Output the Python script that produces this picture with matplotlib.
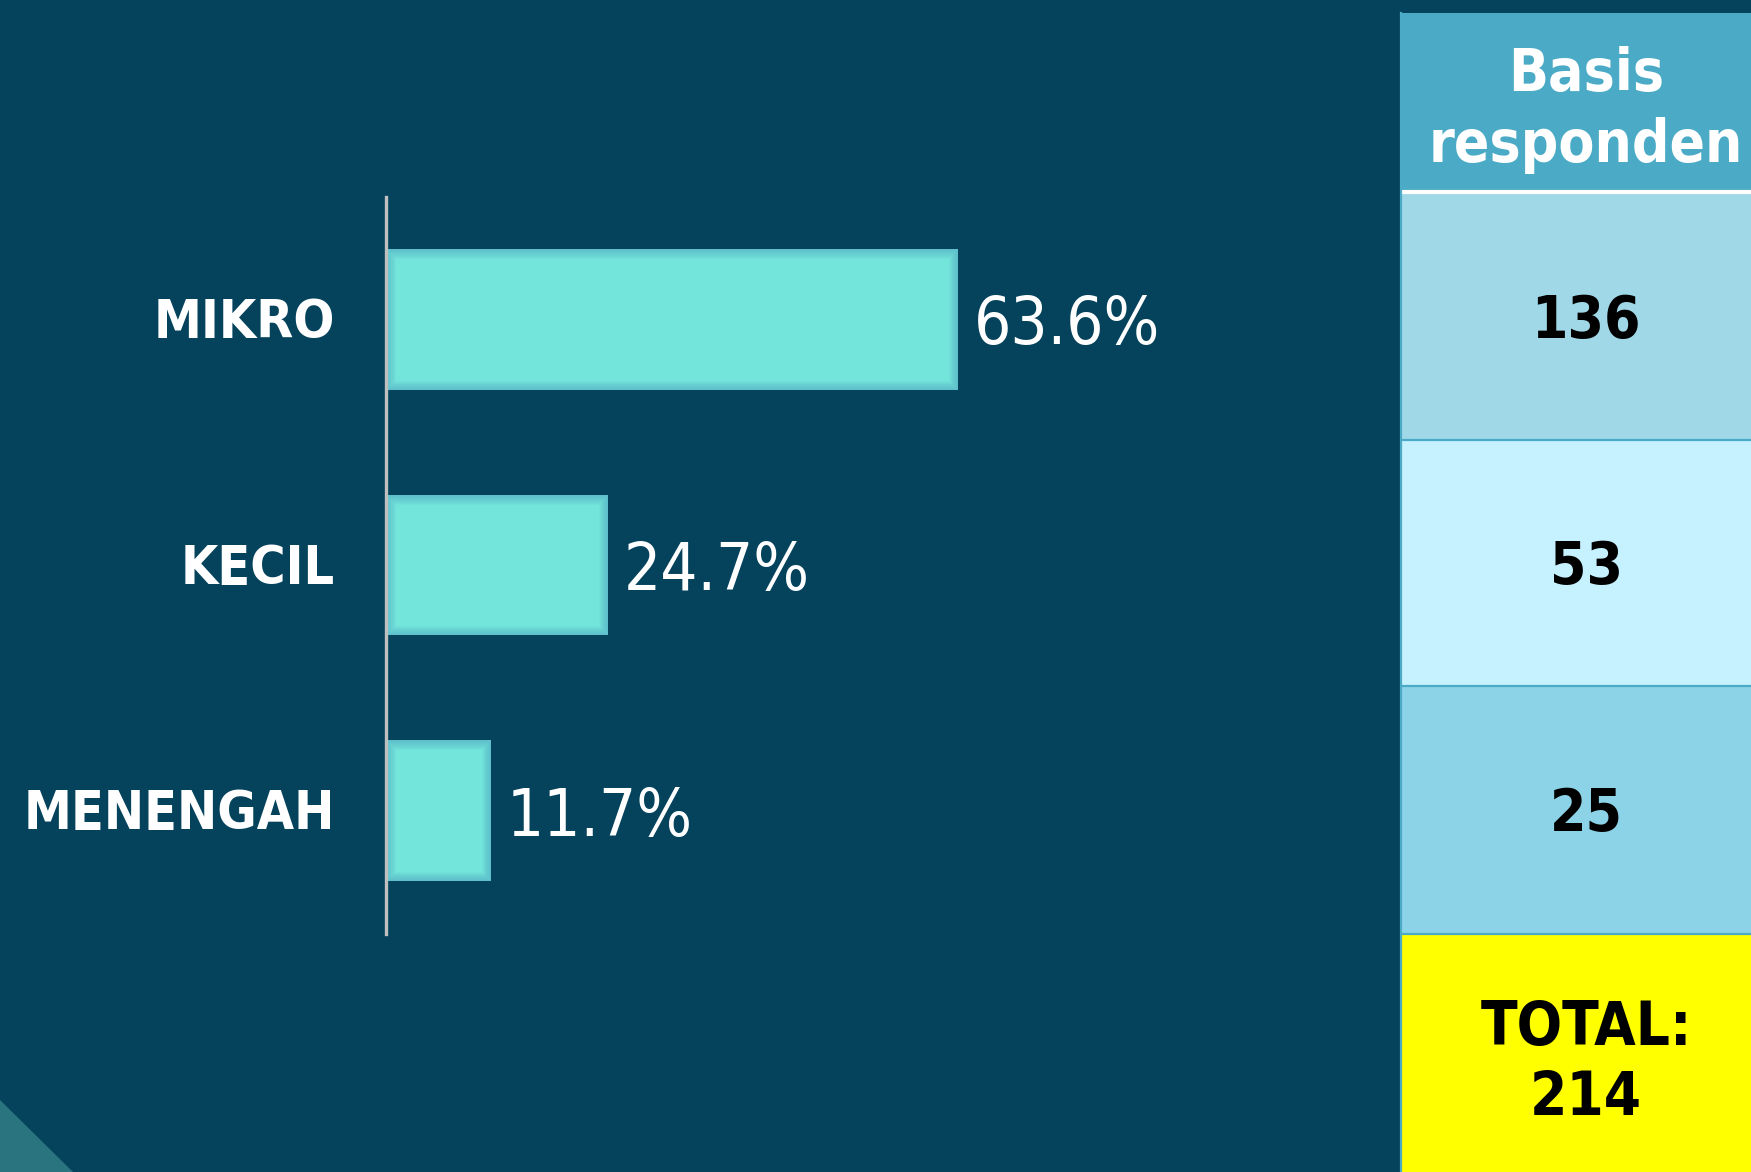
import matplotlib
matplotlib.use("Agg")
import matplotlib.pyplot as plt
from matplotlib.patches import Rectangle, Polygon
from matplotlib import font_manager as fm

# ---------------- data ----------------
categories = ["MIKRO", "KECIL", "MENENGAH"]
shares = [63.6, 24.7, 11.7]
value_labels = ["63.6%", "24.7%", "11.7%"]
header_lines = ["Basis", "responden"]
respondents = [136, 53, 25]
total_lines = ["TOTAL:", "214"]

# ---------------- style ----------------
W, H, DPI = 1751, 1172, 100
BG = "#05435C"
BAR = "#74E5DA"
GLOW = "#4C9FC4"
AXIS = "#BFBFBF"
HEADER = "#4BABC6"
ROW_COLORS = ["#A0D8E8", "#C6F1FF", "#8DD3E7"]
TOTAL_COLOR = "#FFFF00"
TRI = "#2A7480"

COND = any(f.name == "DejaVu Sans" and f.stretch == "condensed"
           for f in fm.fontManager.ttflist)
SCALE = 1.0 if COND else 0.92


def font(size, bold=False):
    d = dict(family="DejaVu Sans", size=size * SCALE,
             weight="bold" if bold else "normal")
    if COND:
        d["stretch"] = "condensed"
    return d


fig = plt.figure(figsize=(W / DPI, H / DPI), dpi=DPI, facecolor=BG)

# background / table layer in pixel coordinates
bg = fig.add_axes([0, 0, 1, 1])
bg.set_xlim(0, W)
bg.set_ylim(H, 0)
bg.axis("off")
bg.set_zorder(0)
bg.set_facecolor(BG)

bg.add_patch(Polygon([(0, 1100), (73, H), (0, H)], closed=True,
                     facecolor=TRI, edgecolor="none"))

x0 = 1401
header_top, header_bot = 12.7, 190
row_edges = [194, 439.5, 685.5, 933.5, H]

bg.add_patch(Rectangle((x0, header_top), W - x0, header_bot - header_top,
                       facecolor=HEADER, edgecolor="none"))
bg.plot([x0, W], [192, 192], color="white", lw=3, solid_capstyle="butt")
fills = ROW_COLORS + [TOTAL_COLOR]
for k in range(4):
    bg.add_patch(Rectangle((x0, row_edges[k]), W - x0,
                           row_edges[k + 1] - row_edges[k],
                           facecolor=fills[k], edgecolor="none"))
for y in row_edges[1:4]:
    bg.plot([x0, W], [y, y], color=HEADER, lw=1.6, solid_capstyle="butt")
bg.plot([x0, x0], [header_top, H], color=HEADER, lw=1.6)

tx = 1586
bg.text(tx, 91, header_lines[0], ha="center", va="baseline",
        color="white", **font(42, True))
bg.text(tx, 162, header_lines[1], ha="center", va="baseline",
        color="white", **font(42, True))
for k, n in enumerate(respondents):
    yc = (row_edges[k] + row_edges[k + 1]) / 2
    bg.text(tx, yc + 21.5, str(n), ha="center", va="baseline",
            color="black", **font(42, True))
bg.text(tx, 1045, total_lines[0], ha="center", va="baseline",
        color="black", **font(43, True))
bg.text(tx, 1115, total_lines[1], ha="center", va="baseline",
        color="black", **font(43, True))

# ---------------- bar chart ----------------
ax_left, ax_top, ax_bot = 386, 196.5, 933.6
ax = fig.add_axes([ax_left / W, (H - ax_bot) / H, 900 / W, (ax_bot - ax_top) / H])
ax.set_zorder(1)
ax.set_facecolor("none")
ax.set_xlim(0, 100)
ax.set_ylim(2.5, -0.5)

ypos = list(range(len(categories)))
bars = ax.barh(ypos, shares, height=0.572, color=BAR, edgecolor="none", zorder=2)

# soft inner glow along the bar edges
glow_widths = [1.5, 3, 4.5, 6, 7.5, 9, 10.5, 12, 13.5]
for b in bars:
    for lw in glow_widths:
        g = ax.barh(b.get_y() + b.get_height() / 2, b.get_width(),
                    height=b.get_height(), fill=False, edgecolor=GLOW,
                    linewidth=lw, alpha=0.07, zorder=3)
        for p in g:
            p.set_clip_path(b)

for s in ["top", "right", "bottom"]:
    ax.spines[s].set_visible(False)
ax.spines["left"].set_color(AXIS)
ax.spines["left"].set_linewidth(2.4)
ax.spines["left"].set_zorder(4)
ax.set_xticks([])
ax.set_yticks([])

for i, (cat, v, lab) in enumerate(zip(categories, shares, value_labels)):
    ax.annotate(cat, xy=(0, i), xycoords=ax.get_yaxis_transform(),
                xytext=(-51, -18.5), textcoords="offset pixels",
                ha="right", va="baseline", color="white", **font(38.6, True))
    ax.annotate(lab, xy=(v, i), xycoords="data",
                xytext=(15, -25), textcoords="offset pixels",
                ha="left", va="baseline", color="white", **font(47))

fig.savefig("out.png", dpi=DPI, facecolor=BG)
